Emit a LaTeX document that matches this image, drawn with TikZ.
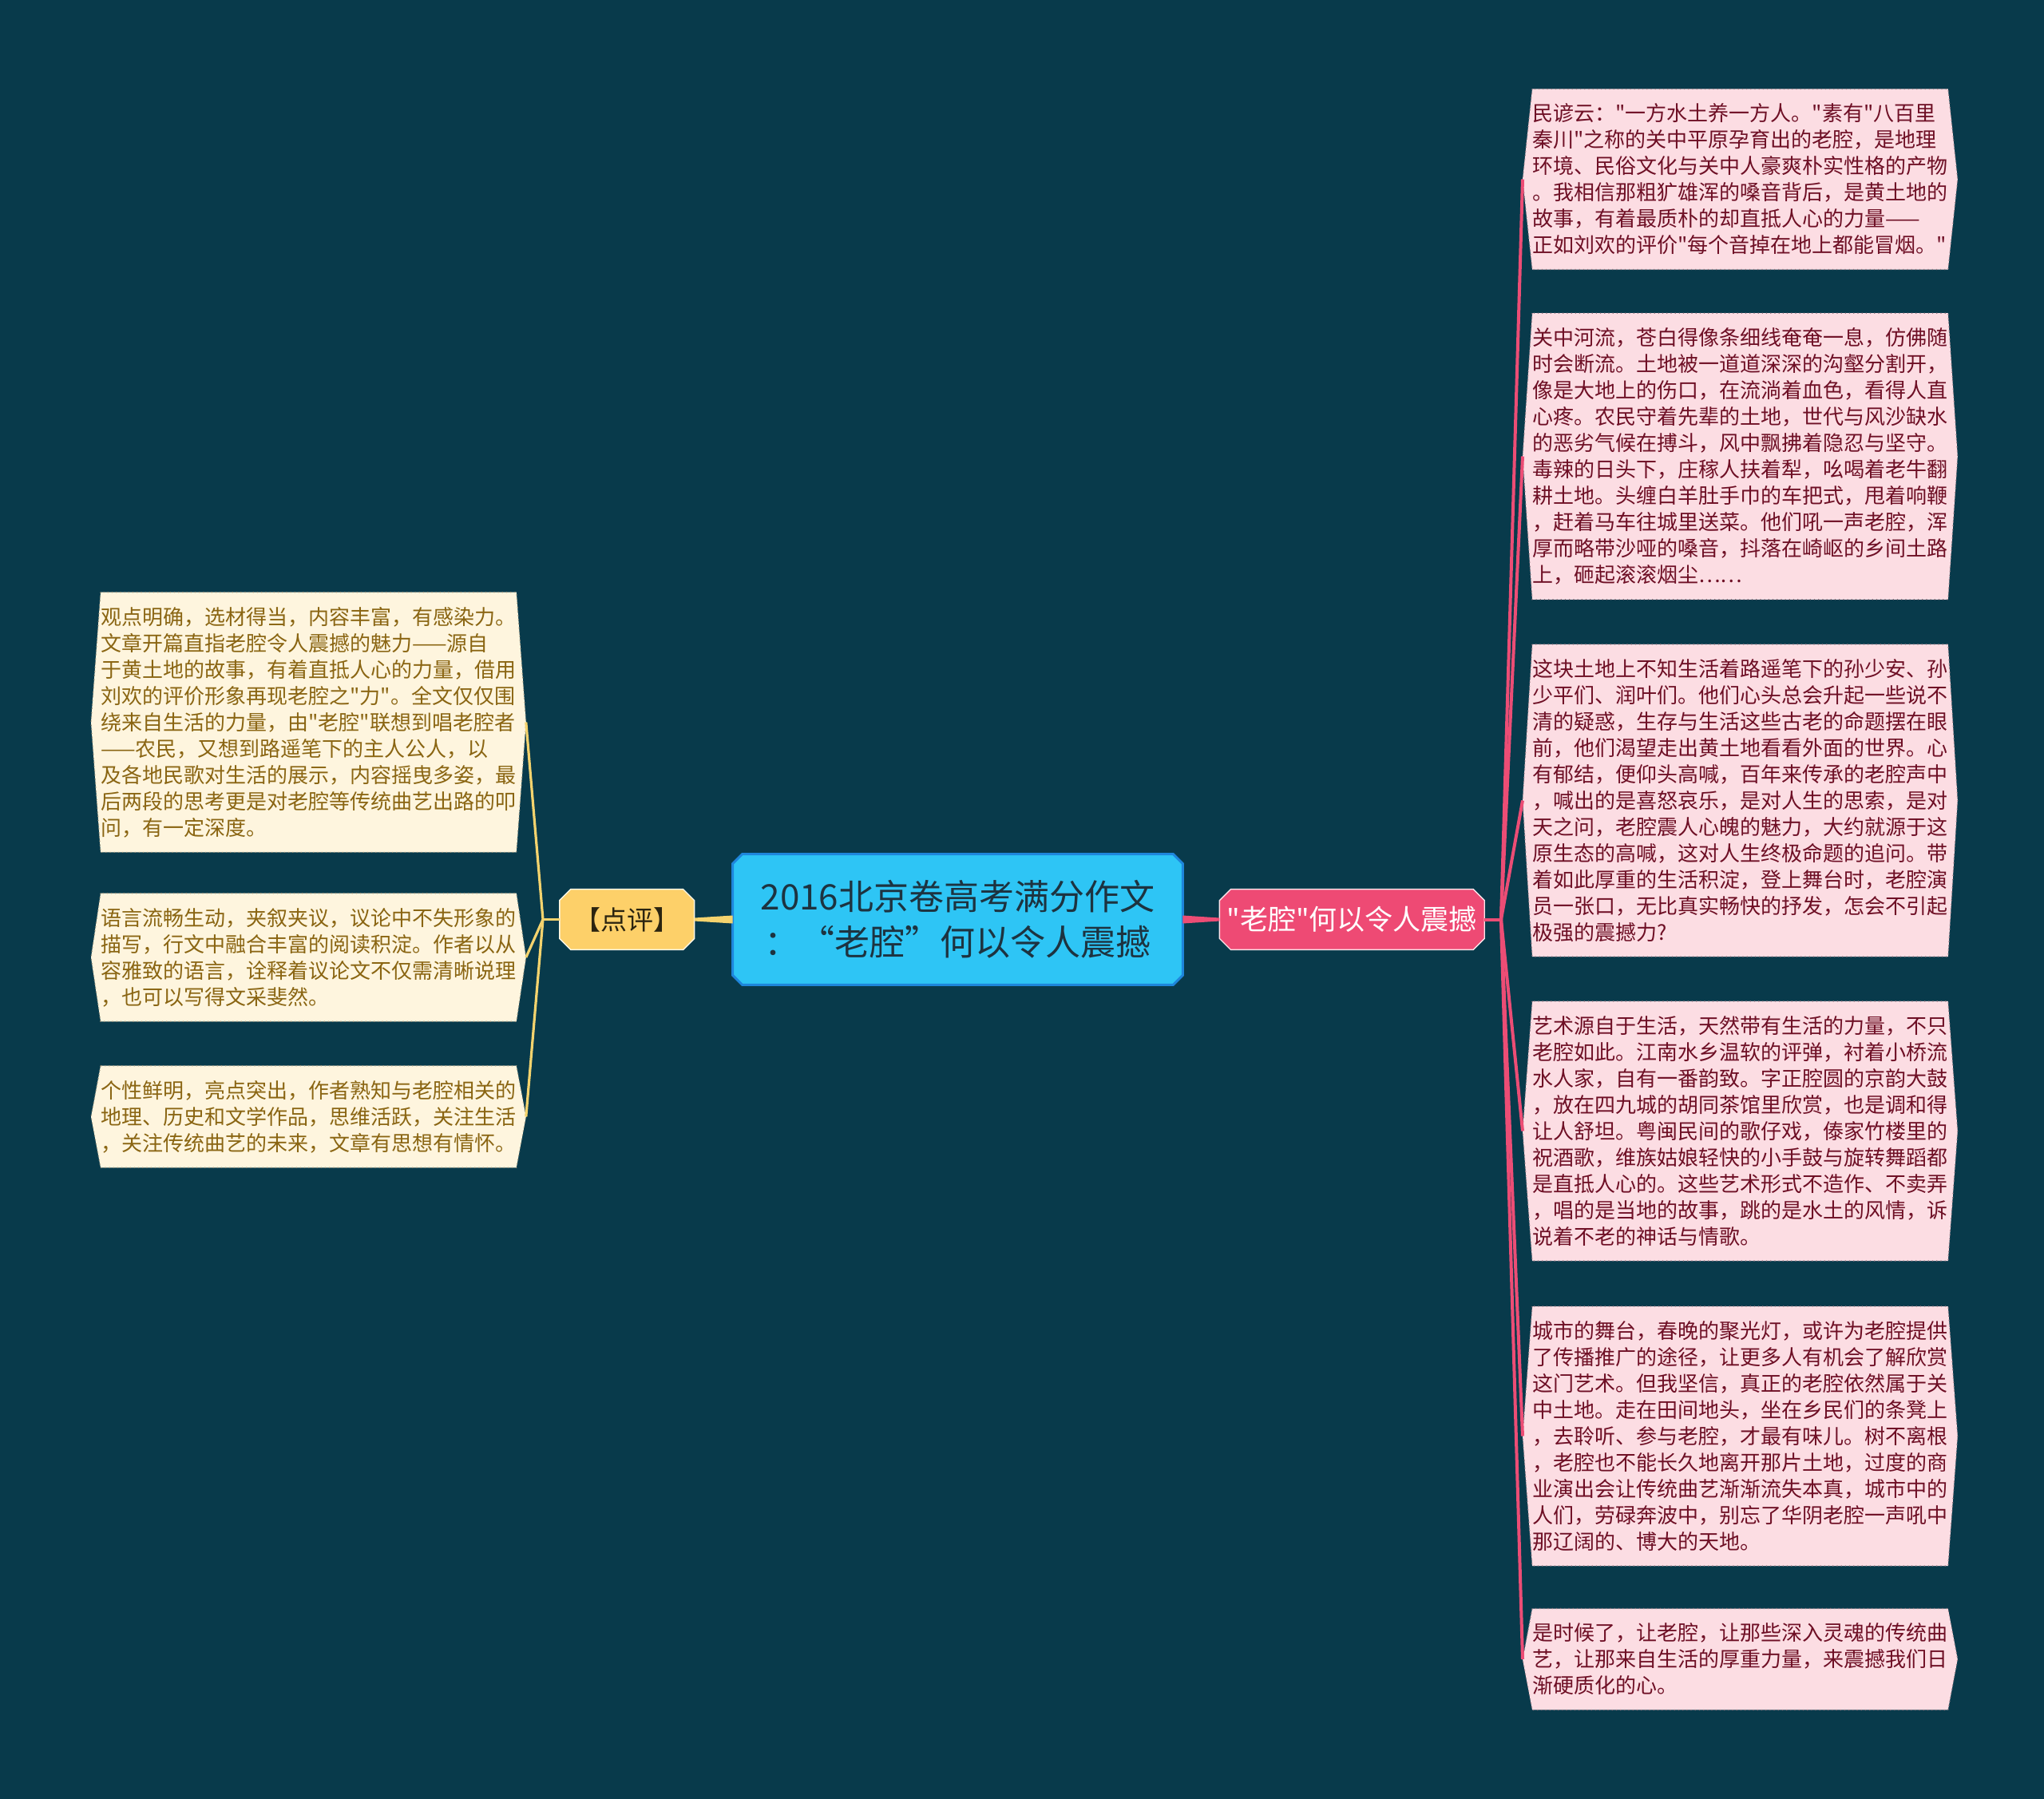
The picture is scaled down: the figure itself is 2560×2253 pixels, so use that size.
\documentclass[tikz,border=0pt]{standalone}
\usepackage{fontspec}
\setmainfont{Noto Sans CJK SC}
\newfontfamily\mapfont{Noto Sans CJK SC}
\usetikzlibrary{positioning}
\definecolor{bgteal}{HTML}{083A4B}
\definecolor{rootfill}{HTML}{2EC5F5}
\definecolor{rootedge}{HTML}{1E86DC}
\definecolor{roottext}{HTML}{1D3340}
\definecolor{gold}{HTML}{FDD069}
\definecolor{goldtext}{HTML}{2B2410}
\definecolor{rose}{HTML}{EE4A74}
\definecolor{pinkleaf}{HTML}{FCDDE3}
\definecolor{pinktext}{HTML}{6E0F25}
\definecolor{pinkedge}{HTML}{9A7A84}
\definecolor{creamleaf}{HTML}{FEF5DE}
\definecolor{creamtext}{HTML}{8A6512}
\definecolor{creamedge}{HTML}{9A9078}
\definecolor{goldline}{HTML}{F4D36E}
\definecolor{roseline}{HTML}{EC4D75}
\pgfdeclarelayer{background}
\pgfsetlayers{background,main}
\tikzset
{
    rootnode/.style  = {align=center, inner sep=0pt, minimum width=281.5pt, minimum height=81.5pt, text=roottext, font=\mapfont\fontsize{22pt}{28.5pt}\selectfont},
    pointnode/.style = {align=center, inner sep=0pt, minimum width=84pt, minimum height=37.5pt, text=goldtext, font=\mapfont\fontsize{16.5pt}{20pt}\selectfont},
    topicnode/.style = {align=center, inner sep=0pt, minimum width=165.5pt, minimum height=37.5pt, text=white, font=\mapfont\fontsize{17.5pt}{20pt}\selectfont},
    essayleaf/.style = {anchor=west, align=left, text width=260pt, inner xsep=6pt, inner ysep=9pt, text=pinktext, font=\mapfont\fontsize{13pt}{16.5pt}\selectfont},
    remarkleaf/.style = {essayleaf, text=creamtext},
    rootshape/.style  = {fill=rootfill, draw=rootedge, line width=1.5pt},
    pointshape/.style = {fill=gold, draw=white!85!gold, line width=0.7pt},
    topicshape/.style = {fill=rose, draw=white!85!rose, line width=0.7pt},
    essayshape/.style = {fill=pinkleaf, draw=pinkedge, dotted, line width=0.6pt},
    remarkshape/.style = {fill=creamleaf, draw=creamedge, dotted, line width=0.6pt},
    goldlink/.style = {draw=goldline, line width=1.6pt},
    roselink/.style = {draw=roseline, line width=2pt}
}
% hexagon round a leaf, octagon round a topic
\newcommand{\hexround}[2]{\path[#2] ([xshift=6pt]#1.north west) -- (#1.west) -- ([xshift=6pt]#1.south west) -- ([xshift=-6pt]#1.south east) -- (#1.east) -- ([xshift=-6pt]#1.north east) -- cycle;}
\newcommand{\octround}[3]{\path[#2] ([xshift=#3]#1.north west) -- ([xshift=-#3]#1.north east) -- ([yshift=-#3]#1.north east) -- ([yshift=#3]#1.south east) -- ([xshift=-#3]#1.south east) -- ([xshift=#3]#1.south west) -- ([yshift=#3]#1.south west) -- ([yshift=-#3]#1.north west) -- cycle;}

\begin{document}
\begin{tikzpicture}[x=0.5pt, y=-0.5pt]
\begin{pgfonlayer}{background}
\path[fill=bgteal, use as bounding box] (0,0) rectangle (2560,2253);
\end{pgfonlayer}

\node[rootnode] (cen) at (1199.5,1151.5) {2016北京卷高考满分作文\\：“老腔”何以令人震撼};
\node[pointnode, left=24pt of cen] (dp) {【点评】};
\node[topicnode, right=23pt of cen] (lq) {"老腔"何以令人震撼};

% right side
\node[essayleaf] (r1) at (1907,224.5) {民谚云："一方水土养一方人。"素有"八百里\\秦川"之称的关中平原孕育出的老腔，是地理\\环境、民俗文化与关中人豪爽朴实性格的产物\\。我相信那粗犷雄浑的嗓音背后，是黄土地的\\故事，有着最质朴的却直抵人心的力量——\\正如刘欢的评价"每个音掉在地上都能冒烟。"};
\node[essayleaf] (r2) at (1907,571.5) {关中河流，苍白得像条细线奄奄一息，仿佛随\\时会断流。土地被一道道深深的沟壑分割开，\\像是大地上的伤口，在流淌着血色，看得人直\\心疼。农民守着先辈的土地，世代与风沙缺水\\的恶劣气候在搏斗，风中飘拂着隐忍与坚守。\\毒辣的日头下，庄稼人扶着犁，吆喝着老牛翻\\耕土地。头缠白羊肚手巾的车把式，甩着响鞭\\，赶着马车往城里送菜。他们吼一声老腔，浑\\厚而略带沙哑的嗓音，抖落在崎岖的乡间土路\\上，砸起滚滚烟尘……};
\node[essayleaf] (r3) at (1907,1002.5) {这块土地上不知生活着路遥笔下的孙少安、孙\\少平们、润叶们。他们心头总会升起一些说不\\清的疑惑，生存与生活这些古老的命题摆在眼\\前，他们渴望走出黄土地看看外面的世界。心\\有郁结，便仰头高喊，百年来传承的老腔声中\\，喊出的是喜怒哀乐，是对人生的思索，是对\\天之问，老腔震人心魄的魅力，大约就源于这\\原生态的高喊，这对人生终极命题的追问。带\\着如此厚重的生活积淀，登上舞台时，老腔演\\员一张口，无比真实畅快的抒发，怎会不引起\\极强的震撼力?};
\node[essayleaf] (r4) at (1907,1416.5) {艺术源自于生活，天然带有生活的力量，不只\\老腔如此。江南水乡温软的评弹，衬着小桥流\\水人家，自有一番韵致。字正腔圆的京韵大鼓\\，放在四九城的胡同茶馆里欣赏，也是调和得\\让人舒坦。粤闽民间的歌仔戏，傣家竹楼里的\\祝酒歌，维族姑娘轻快的小手鼓与旋转舞蹈都\\是直抵人心的。这些艺术形式不造作、不卖弄\\，唱的是当地的故事，跳的是水土的风情，诉\\说着不老的神话与情歌。};
\node[essayleaf] (r5) at (1907,1798.5) {城市的舞台，春晚的聚光灯，或许为老腔提供\\了传播推广的途径，让更多人有机会了解欣赏\\这门艺术。但我坚信，真正的老腔依然属于关\\中土地。走在田间地头，坐在乡民们的条凳上\\，去聆听、参与老腔，才最有味儿。树不离根\\，老腔也不能长久地离开那片土地，过度的商\\业演出会让传统曲艺渐渐流失本真，城市中的\\人们，劳碌奔波中，别忘了华阴老腔一声吼中\\那辽阔的、博大的天地。};
\node[essayleaf] (r6) at (1907,2078) {是时候了，让老腔，让那些深入灵魂的传统曲\\艺，让那来自生活的厚重力量，来震撼我们日\\渐硬质化的心。};

% left side
\node[remarkleaf] (l1) at (114,904.5) {观点明确，选材得当，内容丰富，有感染力。\\文章开篇直指老腔令人震撼的魅力——源自\\于黄土地的故事，有着直抵人心的力量，借用\\刘欢的评价形象再现老腔之"力"。全文仅仅围\\绕来自生活的力量，由"老腔"联想到唱老腔者\\——农民，又想到路遥笔下的主人公人，以\\及各地民歌对生活的展示，内容摇曳多姿，最\\后两段的思考更是对老腔等传统曲艺出路的叩\\问，有一定深度。};
\node[remarkleaf] (l2) at (114,1199) {语言流畅生动，夹叙夹议，议论中不失形象的\\描写，行文中融合丰富的阅读积淀。作者以从\\容雅致的语言，诠释着议论文不仅需清晰说理\\，也可以写得文采斐然。};
\node[remarkleaf] (l3) at (114,1398.5) {个性鲜明，亮点突出，作者熟知与老腔相关的\\地理、历史和文学作品，思维活跃，关注生活\\，关注传统曲艺的未来，文章有思想有情怀。};

\coordinate (lj) at (680,1151.5);
\coordinate (rj) at (1880,1151.5);

\begin{pgfonlayer}{background}
\octround{cen}{rootshape}{6pt}
\octround{dp}{pointshape}{7pt}
\octround{lq}{topicshape}{7pt}
\foreach \n in {r1,r2,r3,r4,r5,r6} {\hexround{\n}{essayshape}}
\foreach \n in {l1,l2,l3} {\hexround{\n}{remarkshape}}
\end{pgfonlayer}

% tapered links out of the root
\fill[goldline] ([yshift=2.5pt]cen.west) -- ([yshift=1pt]dp.east) -- ([yshift=-1pt]dp.east) -- ([yshift=-2.5pt]cen.west) -- cycle;
\fill[roseline] ([yshift=2.5pt]cen.east) -- ([yshift=1pt]lq.west) -- ([yshift=-1pt]lq.west) -- ([yshift=-2.5pt]cen.east) -- cycle;

\draw[goldlink] (dp.west) -- (lj);
\foreach \n in {l1,l2,l3} {\draw[goldlink] (lj) -- (\n.east);}
\draw[roselink] (lq.east) -- (rj);
\foreach \n in {r1,r2,r3,r4,r5,r6} {\draw[roselink] (rj) -- (\n.west);}
\end{tikzpicture}
\end{document}
